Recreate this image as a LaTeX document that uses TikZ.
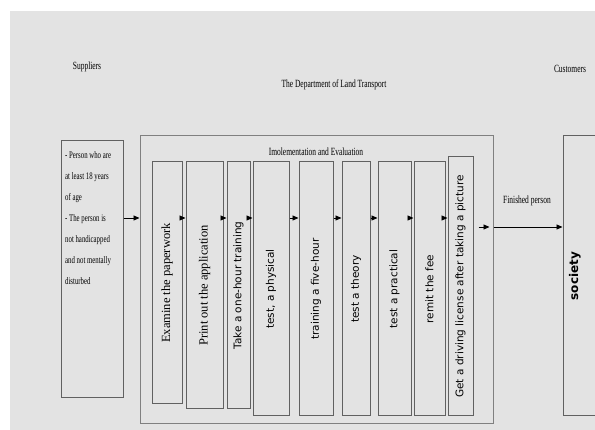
\documentclass[tikz,border=0pt]{standalone}
\usepackage{fontspec}
\setmainfont{Liberation Serif}
\newfontfamily\narrowserif[FakeStretch=0.68]{Liberation Serif}
\newfontfamily\boxsans{DejaVu Sans}
\usetikzlibrary{arrows.meta}

\begin{document}
\begin{tikzpicture}[x=1pt, y=-1pt]
        \tikzstyle{frame} = [draw=black!62, line width=1pt, inner sep=0pt]
        \tikzstyle{stepbox} = [frame, font=\fontsize{10.5}{12}\boxsans]
        \tikzstyle{paper step} = [frame, font=\fontsize{12.5}{14}\selectfont]
        \tikzstyle{heading} = [font=\fontsize{11}{13}\narrowserif]
        \tikzstyle{flow} = [-{Triangle[length=6pt, width=5pt]}, thick]

        \useasboundingbox (0, 0) rectangle (595, 430);
        \fill[white] (0, 0) rectangle (595, 430);
        \fill[black!11] (10, 11) rectangle (595, 430);

        \coordinate (arr) at (0, 218);
        \coordinate (out) at (0, 227);

        % headings
        \node[heading](suppliers) at(87, 67) {Suppliers};
        \node[heading](dlt) at(334, 85) {The Department of Land Transport};
        \node[heading](customers) at(570, 69) {Customers};

        % suppliers
        \node[frame, minimum width=62, minimum height=257](supplier) at(92, 269.5) {};
        \node[font=\fontsize{10}{21}\narrowserif, align=left, anchor=north west, inner sep=0pt](conditions) at(65, 151) {- Person who are\\at least 18 years\\of age\\- The person is\\not handicapped\\and not mentally\\disturbed};

        % the department
        \node[frame, draw=black!50, minimum width=353, minimum height=288](dept) at(316.5, 280) {};
        \node[heading](impl) at(316, 152) {Imolementation and Evaluation};

        \node[paper step, minimum width=30, minimum height=242](s1) at(167, 283) {\rotatebox{90}{Examine the paperwork}};
        \node[paper step, minimum width=37, minimum height=247](s2) at(204.5, 285.5) {\rotatebox{90}{Print out the application}};
        \node[stepbox, minimum width=23, minimum height=247](s3) at(238.5, 285.5) {\rotatebox{90}{Take a one-hour training}};
        \node[stepbox, minimum width=36, minimum height=254](s4) at(271, 289) {\rotatebox{90}{test, a physical}};
        \node[stepbox, minimum width=34, minimum height=254](s5) at(316, 289) {\rotatebox{90}{training a five-hour}};
        \node[stepbox, minimum width=28, minimum height=254](s6) at(356, 289) {\rotatebox{90}{test a theory}};
        \node[stepbox, minimum width=33, minimum height=254](s7) at(394.5, 289) {\rotatebox{90}{test a practical}};
        \node[stepbox, minimum width=31, minimum height=254](s8) at(429.5, 289) {\rotatebox{90}{remit the fee}};
        \node[stepbox, minimum width=25, minimum height=259](s9) at(460.5, 286.5) {\rotatebox{90}{Get a driving license after taking a picture}};

        % customers
        \node[frame, minimum width=37, minimum height=280, text width=25, inner xsep=6pt, align=left, font=\fontsize{12}{14}\boxsans\bfseries](society) at(581.5, 276) {\rotatebox{90}{society}};
        \node[heading](finished) at(527, 201) {Finished person};

        \draw[flow] (supplier.east |- arr) -- (dept.west |- arr);
        \draw[flow] (s1.east |- arr) -- (s2.west |- arr);
        \draw[flow] (s2.east |- arr) -- (s3.west |- arr);
        \draw[flow] (s3.east |- arr) -- (s4.west |- arr);
        \draw[flow] (s4.east |- arr) -- (s5.west |- arr);
        \draw[flow] (s5.east |- arr) -- (s6.west |- arr);
        \draw[flow] (s6.east |- arr) -- (s7.west |- arr);
        \draw[flow] (s7.east |- arr) -- (s8.west |- arr);
        \draw[flow] (s8.east |- arr) -- (s9.west |- arr);
        \draw[flow, shorten <=5pt, shorten >=4pt] (s9.east |- out) -- (dept.east |- out);
        \draw[flow] (dept.east |- out) -- (society.west |- out);
    \end{tikzpicture}
\end{document}
